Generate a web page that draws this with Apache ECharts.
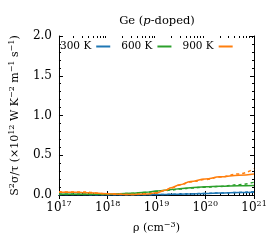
<!DOCTYPE html>
<html><head><meta charset="utf-8">
<script src="https://cdn.jsdelivr.net/npm/echarts@6/dist/echarts.min.js"></script>
<style>html,body{margin:0;padding:0;background:#fff}#c{width:274px;height:240px}</style>
</head><body><div id="c"></div>
<script>
const rho = [1e17, 3e17, 1e18, 3e18, 6e18, 1e19, 1.5e19, 2e19, 3e19, 5e19, 1e20, 2e20, 5e20, 1e21];
const s300 = [0.005, 0.005, 0.003, 0.003, 0.004, 0.005, 0.007, 0.008, 0.011, 0.014, 0.018, 0.024, 0.03, 0.035];
const s300d = [0.005, 0.005, 0.003, 0.003, 0.004, 0.005, 0.007, 0.009, 0.012, 0.015, 0.02, 0.026, 0.033, 0.042];
const s600 = [0.01, 0.01, 0.01, 0.022, 0.035, 0.05, 0.06, 0.068, 0.08, 0.092, 0.103, 0.11, 0.115, 0.12];
const s600d = [0.01, 0.01, 0.01, 0.02, 0.032, 0.045, 0.055, 0.062, 0.075, 0.088, 0.098, 0.108, 0.13, 0.16];
const s900 = [0.035, 0.033, 0.015, 0.006, 0.012, 0.028, 0.06, 0.09, 0.13, 0.17, 0.2, 0.228, 0.25, 0.265];
const s900d = [0.04, 0.038, 0.015, 0.006, 0.012, 0.026, 0.058, 0.088, 0.125, 0.165, 0.195, 0.225, 0.265, 0.33];
const xTicks = [1e17, 1e18, 1e19, 1e20, 1e21];
const yTicks = [0, 0.5, 1.0, 1.5, 2.0];
const labels = ['300 K', '600 K', '900 K'];
const colors = ['#1f77b4', '#2ca02c', '#ff7f0e'];

const minorX = [];
for (let d = 17; d < 21; d++) for (let k = 2; k <= 9; k++) minorX.push(k * Math.pow(10, d));

const F = 'DejaVu Serif';
const sup = {fontSize: 8, verticalAlign: 'top', lineHeight: 9, fontFamily: F, color: '#000'};
const pair = (a) => rho.map((r, i) => [r, a[i]]);
const series = [];
const sets = [[s300, s300d], [s600, s600d], [s900, s900d]];
sets.forEach((s, i) => {
  series.push({name: labels[i], type: 'line', data: pair(s[0]), smooth: 0.4, smoothMonotone: 'x', showSymbol: false,
    lineStyle: {color: colors[i], width: 1.5}, itemStyle: {color: colors[i]}, z: 3});
  series.push({name: labels[i] + ' d', type: 'line', data: pair(s[1]), smooth: 0.4, smoothMonotone: 'x', showSymbol: false,
    lineStyle: {color: colors[i], width: 1.5, type: [3, 3]}, itemStyle: {color: colors[i]}, z: 3});
});

const chart = echarts.init(document.getElementById('c'), null, {renderer: 'canvas'});
chart.setOption({
  animation: false,
  title: {text: 'Ge ({i|p}-doped)', left: 152, top: 10, textAlign: 'center',
    textStyle: {fontFamily: F, fontSize: 11.5, fontWeight: 'normal', color: '#000',
      rich: {i: {fontStyle: 'italic', fontFamily: F, fontSize: 11.5, color: '#000'}}}},
  legend: {data: labels.map((l, i) => ({name: l, itemStyle: {color: colors[i]}})), left: 60, top: 41, padding: 0,
    align: 'right', itemWidth: 14, itemHeight: 2, icon: 'rect', itemGap: 11,
    textStyle: {fontFamily: F, fontSize: 10.5, color: '#000'}},
  grid: {left: 51, right: 20, top: 36, bottom: 41},
  xAxis: [{
    type: 'log', logBase: 10, min: 1e17, max: 1e21, position: 'bottom',
    name: 'ρ (cm{sup|−3})', nameLocation: 'middle', nameGap: 26,
    nameTextStyle: {fontFamily: F, fontSize: 11, color: '#000', lineHeight: 14, rich: {sup}},
    axisLine: {lineStyle: {color: '#000', width: 1}},
    axisTick: {inside: true, length: 4, lineStyle: {color: '#000'}},
    axisLabel: {fontFamily: F, fontSize: 12, color: '#000', margin: 5, lineHeight: 15,
      formatter: v => '10{sup|' + Math.round(Math.log10(v)) + '}', rich: {sup}},
    splitLine: {show: false}
  }, {
    type: 'log', logBase: 10, min: 1e17, max: 1e21, position: 'top',
    axisLine: {lineStyle: {color: '#000'}},
    axisTick: {inside: true, length: 4, lineStyle: {color: '#000'}},
    axisLabel: {show: false}, splitLine: {show: false}
  }, {
    type: 'log', logBase: 10, min: 1e17, max: 1e21, position: 'bottom',
    axisLine: {show: false},
    axisTick: {inside: true, length: 2, customValues: minorX, lineStyle: {color: '#000'}},
    axisLabel: {show: false}, splitLine: {show: false}
  }, {
    type: 'log', logBase: 10, min: 1e17, max: 1e21, position: 'top',
    axisLine: {show: false},
    axisTick: {inside: true, length: 2, customValues: minorX, lineStyle: {color: '#000'}},
    axisLabel: {show: false}, splitLine: {show: false}
  }],
  yAxis: [{
    type: 'value', min: 0, max: 2, interval: 0.5, position: 'left',
    name: 'S{sup|2}σ/τ (×10{sup|12} W K{sup|−2} m{sup|−1} s{sup|−1})', nameLocation: 'middle', nameGap: 35,
    nameTextStyle: {fontFamily: F, fontSize: 11, color: '#000', lineHeight: 14, rich: {sup}},
    axisLine: {lineStyle: {color: '#000'}},
    axisTick: {inside: true, length: 4, lineStyle: {color: '#000'}},
    minorTick: {show: true, splitNumber: 5, length: 2, lineStyle: {color: '#000'}},
    axisLabel: {fontFamily: F, fontSize: 12, color: '#000', margin: 7, formatter: v => v.toFixed(1)},
    splitLine: {show: false}
  }, {
    type: 'value', min: 0, max: 2, interval: 0.5, position: 'right',
    axisLine: {lineStyle: {color: '#000'}},
    axisTick: {inside: true, length: 4, lineStyle: {color: '#000'}},
    minorTick: {show: true, splitNumber: 5, length: 2, lineStyle: {color: '#000'}},
    axisLabel: {show: false}, splitLine: {show: false}
  }],
  series
});
</script></body></html>
